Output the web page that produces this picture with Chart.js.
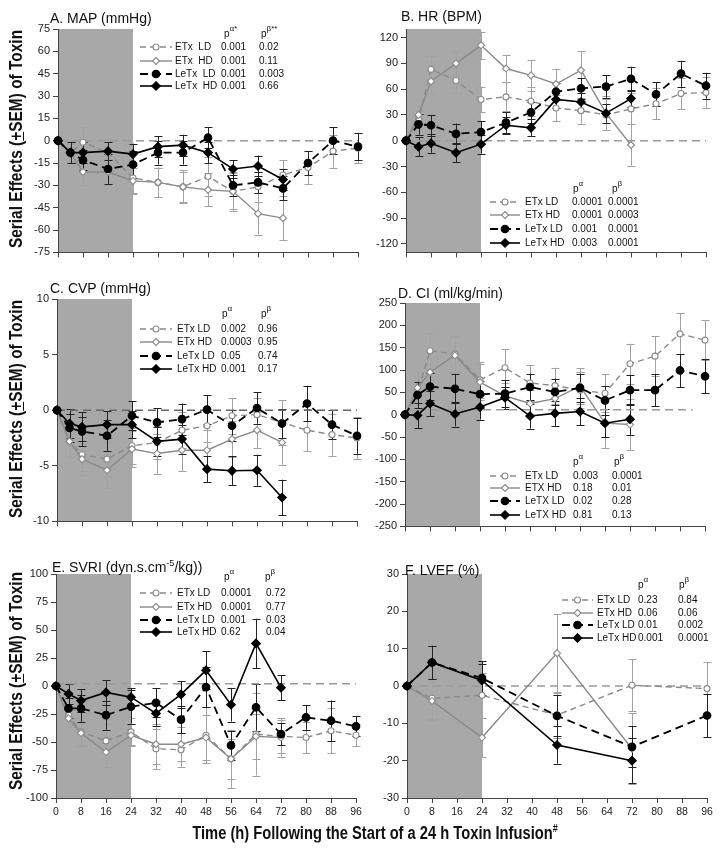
<!DOCTYPE html>
<html><head><meta charset="utf-8">
<script src="https://cdn.jsdelivr.net/npm/chart.js@4.4.0/dist/chart.umd.min.js"></script>
<style>
body{margin:0;background:#fff;width:720px;height:848px;position:relative;overflow:hidden;font-family:"Liberation Sans",Arial,sans-serif;color:#111;}
canvas{position:absolute;}
.ttl{position:absolute;font-size:14px;white-space:nowrap;line-height:16px;transform:translateY(-50%);}
.ttl sup{font-size:9px;}
.axt{position:absolute;font-weight:bold;font-size:18px;white-space:nowrap;line-height:20px;}
.axt sup{font-size:11px;}
.lg{position:absolute;font-size:10px;white-space:nowrap;line-height:12px;transform:translateY(-50%);}
.lg sup{font-size:8px;vertical-align:6px;line-height:0;}
svg.sym{position:absolute;overflow:visible;}
</style></head>
<body>
<script>
// ---------------- DATA ----------------
const X_TICKS = [0,8,16,24,32,40,48,56,64,72,80,88,96];
const infusionWindow = [0, 24];
const T_FULL = [0,4,8,16,24,32,40,48,56,64,72,80,88,96];
const T_72   = [0,4,8,16,24,32,40,48,56,64,72];
const T_F    = [0,8,24,48,72,96];
const T_F72  = [0,8,24,48,72];
const seriesNames = ['ETx LD','ETx HD','LeTx LD','LeTx HD'];

// A. MAP
const yTicksA = [-75,-60,-45,-30,-15,0,15,30,45,60,75];
const mapEtxLD = [0,-8,-1,-8,-25,-28,-31,-24,-34,-31,-23,-18,-7,-5];
const mapEtxLDsem = [0,6,10,9,10,10,10,13,13,10,10,11,11,10];
const mapEtxHD = [0,-8,-21,-21,-27,-28,-31,-33,-34,-49,-52];
const mapEtxHDsem = [0,7,9,9,9,10,11,11,12,14,15];
const mapLetxLD = [0,-8,-13,-19,-16,-8,-8,2,-30,-28,-32,-15,0,-4];
const mapLetxLDsem = [0,7,7,10,9,8,8,7,7,7,8,8,9,9];
const mapLetxHD = [0,-8,-8,-7,-9,-4,-3,-8,-19,-17,-26];
const mapLetxHDsem = [0,7,7,6,7,7,7,7,6,7,7];
const mapRef = 0;
const mapPa = ['0.001','0.001','0.001','0.001'];
const mapPb = ['0.02','0.11','0.003','0.66'];

// B. HR
const yTicksB = [-120,-90,-60,-30,0,30,60,90,120];
const hrEtxLD = [0,25,83,70,48,51,46,38,35,30,37,43,55,56];
const hrEtxLDsem = [0,10,15,15,15,17,17,15,15,18,18,18,18,18];
const hrEtxHD = [0,30,69,90,111,84,76,66,82,32,-5];
const hrEtxHDsem = [0,10,15,14,16,16,18,18,22,20,24];
const hrLetxLD = [0,19,18,8,10,21,33,57,61,63,72,54,78,64];
const hrLetxLDsem = [0,12,12,12,13,12,12,10,12,13,14,14,15,15];
const hrLetxHD = [0,-7,-3,-14,-4,18,15,48,45,32,49];
const hrLetxHDsem = [0,11,11,11,11,10,10,10,11,11,10];
const hrRef = 0;
const hrPa = ['0.0001','0.0001','0.001','0.003'];
const hrPb = ['0.0001','0.0003','0.0001','0.0001'];

// C. CVP
const yTicksC = [-10,-5,0,5,10];
const cvpEtxLD = [0,-2.8,-4.0,-4.4,-3.2,-2.9,-1.8,-1.4,-0.5,-0.4,-1.1,-1.8,-2.2,-2.5];
const cvpEtxLDsem = [0,1.4,1.5,1.5,1.6,1.5,1.6,1.5,1.6,1.5,2.0,1.9,1.9,1.9];
const cvpEtxHD = [0,-2.8,-4.4,-5.4,-3.5,-3.9,-3.6,-3.6,-2.6,-1.8,-2.9];
const cvpEtxHDsem = [0,1.4,1.4,1.6,1.6,1.8,1.9,1.8,1.6,1.6,2.0];
const cvpLetxLD = [0,-1.6,-1.9,-2.3,-0.5,-1.1,-0.8,0.05,-1.4,0.2,-1.2,0.6,-1.3,-2.3];
const cvpLetxLDsem = [0,1.3,1.3,1.4,1.3,1.3,1.4,1.3,1.4,1.4,1.3,1.6,1.3,1.6];
const cvpLetxHD = [0,-1.2,-1.5,-1.3,-1.3,-2.8,-2.6,-5.3,-5.45,-5.4,-7.85];
const cvpLetxHDsem = [0,1.3,1.3,1.2,1.2,1.3,1.3,1.2,1.3,1.4,1.6];
const cvpRef = 0;
const cvpPa = ['0.002','0.0003','0.05','0.001'];
const cvpPb = ['0.96','0.95','0.74','0.17'];

// D. CI
const yTicksD = [-250,-200,-150,-100,-50,0,50,100,150,200,250];
const ciEtxLD = [0,50,143,136,78,105,71,65,55,48,114,131,181,167];
const ciEtxLDsem = [0,35,40,40,40,42,40,40,40,42,45,45,46,45];
const ciEtxHD = [0,60,95,133,73,42,25,36,64,-19,-22];
const ciEtxHDsem = [0,35,45,40,40,30,30,30,40,55,58];
const ciLetxLD = [0,44,63,58,46,47,62,51,60,32,55,55,99,86];
const ciLetxLDsem = [0,30,30,32,30,30,30,30,32,32,33,36,37,38];
const ciLetxHD = [0,-1.5,25,1.5,17,38,-3,3,7,-19,-10];
const ciLetxHDsem = [0,28,28,28,28,25,28,28,30,32,35];
const ciRef = 11;
const ciNames = ['ETx LD','ETX HD','LeTX LD','LeTX HD'];
const ciPa = ['0.003','0.18','0.02','0.81'];
const ciPb = ['0.0001','0.01','0.28','0.13'];

// E. SVRI
const yTicksE = [-100,-75,-50,-25,0,25,50,75,100];
const svriEtxLD = [0,-26,-41,-49,-41,-56,-57,-44,-65,-43,-45,-46,-40,-44];
const svriEtxLDsem = [0,8,12,15,12,18,15,25,26,37,15,14,20,10];
const svriEtxHD = [0,-29,-42,-59,-44,-52,-52,-46,-65,-45,-46];
const svriEtxHDsem = [0,8,12,13,10,18,15,20,18,20,17];
const svriLetxLD = [0,-20,-20,-26,-18.5,-15,-30,-1,-53,-19,-43,-28,-31,-36];
const svriLetxLDsem = [0,9,12,13,15,13,12,18,13,21,10,11,18,9];
const svriLetxHD = [0,-7,-13,-5.7,-10,-24.5,-7.5,14,-16.7,38,-1.5];
const svriLetxHDsem = [0,9,10,11,8,11,12,17,15,22,11];
const svriRef = 2;
const svriPa = ['0.0001','0.0001','0.001','0.62'];
const svriPb = ['0.72','0.77','0.03','0.04'];

// F. LVEF
const yTicksF = [-30,-20,-10,0,10,20,30];
const lvefEtxLD = [0,-3.3,-2.5,-7.8,0.2,-0.7];
const lvefEtxLDsem = [0,5.5,6,6,7,7];
const lvefEtxHD = [0,-4,-13.8,8.8,-16.8];
const lvefEtxHDsem = [0,5,5.3,10.5,9.5];
const lvefLetxLD = [0,6.3,2.1,-8,-16.3,-7.9];
const lvefLetxLDsem = [0,4.5,4.5,5.5,5.5,5.8];
const lvefLetxHD = [0,6.3,1.5,-15.8,-20];
const lvefLetxHDsem = [0,4.3,4.3,5,6];
const lvefRef = 0;
const lvefPa = ['0.23','0.06','0.01','0.001'];
const lvefPb = ['0.84','0.06','0.002','0.0001'];

// ---------------- STYLES / LAYOUT ----------------
const GREY = '#8a8a8a', GREY_ERR = '#a2a2a2', BLACK = '#000';
const seriesStyle = [
  {color:GREY, err:GREY_ERR, dash:[6,4], shape:'circle', r:3, fill:'#fff', bw:1.4},
  {color:GREY, err:GREY_ERR, dash:[], shape:'rectRot', r:3.5, fill:'#fff', bw:1.4},
  {color:BLACK, err:'#222', dash:[8,5], shape:'circle', r:3.8, fill:BLACK, bw:1.8},
  {color:BLACK, err:'#222', dash:[], shape:'rectRot', r:4.3, fill:BLACK, bw:1.6}
];

const panels = [
  {L:58, T:29, H:225, yMin:-75, yMax:75, yTicks:yTicksA, bottom:false, refY:mapRef, refX:[0,96], refColor:'#9a9a9a',
   series:[[T_FULL,mapEtxLD,mapEtxLDsem],[T_72,mapEtxHD,mapEtxHDsem],[T_FULL,mapLetxLD,mapLetxLDsem],[T_72,mapLetxHD,mapLetxHDsem]]},
  {L:406, T:29, H:225, yMin:-130, yMax:130, yTicks:yTicksB, bottom:false, refY:hrRef, refX:[0,96], refColor:'#9a9a9a',
   series:[[T_FULL,hrEtxLD,hrEtxLDsem],[T_72,hrEtxHD,hrEtxHDsem],[T_FULL,hrLetxLD,hrLetxLDsem],[T_72,hrLetxHD,hrLetxHDsem]]},
  {L:57, T:299, H:224, yMin:-10, yMax:10, yTicks:yTicksC, bottom:false, refY:cvpRef, refX:[0,96], refColor:'#666',
   series:[[T_FULL,cvpEtxLD,cvpEtxLDsem],[T_72,cvpEtxHD,cvpEtxHDsem],[T_FULL,cvpLetxLD,cvpLetxLDsem],[T_72,cvpLetxHD,cvpLetxHDsem]]},
  {L:405, T:303, H:225, yMin:-250, yMax:250, yTicks:yTicksD, bottom:false, refY:ciRef, refX:[0,92], refColor:'#9a9a9a',
   series:[[T_FULL,ciEtxLD,ciEtxLDsem],[T_72,ciEtxHD,ciEtxHDsem],[T_FULL,ciLetxLD,ciLetxLDsem],[T_72,ciLetxHD,ciLetxHDsem]]},
  {L:56, T:574, H:224, yMin:-100, yMax:100, yTicks:yTicksE, bottom:true, refY:svriRef, refX:[0,96], refColor:'#9a9a9a',
   series:[[T_FULL,svriEtxLD,svriEtxLDsem],[T_72,svriEtxHD,svriEtxHDsem],[T_FULL,svriLetxLD,svriLetxLDsem],[T_72,svriLetxHD,svriLetxHDsem]]},
  {L:407, T:574, H:224, yMin:-30, yMax:30, yTicks:yTicksF, bottom:true, refY:lvefRef, refX:[0,96], refColor:'#9a9a9a',
   series:[[T_F,lvefEtxLD,lvefEtxLDsem],[T_F72,lvefEtxHD,lvefEtxHDsem],[T_F,lvefLetxLD,lvefLetxLDsem],[T_F72,lvefLetxHD,lvefLetxHDsem]]}
];

const YW = 45, PADT = 10, PADR = 14;
const AXIS = '#444';
const FONT = '"Liberation Sans", Arial, sans-serif';

const shadePlugin = {
  id:'shade',
  beforeDraw(chart){
    const {ctx, chartArea:a, scales:{x}} = chart;
    const x0 = x.getPixelForValue(infusionWindow[0]), x1 = x.getPixelForValue(infusionWindow[1]);
    ctx.save(); ctx.fillStyle = '#a8a8a8';
    ctx.fillRect(x0, a.top, x1 - x0, a.bottom - a.top);
    ctx.restore();
  }
};
const errPlugin = {
  id:'errbars',
  beforeDatasetsDraw(chart){
    const {ctx, scales:{y}} = chart;
    ctx.save();
    const idx = chart.data.datasets.map((d,i)=>i).filter(i=>chart.data.datasets[i].sem);
    idx.sort((a,b)=>chart.data.datasets[b].order - chart.data.datasets[a].order);
    for (const i of idx) {
      const ds = chart.data.datasets[i];
      const meta = chart.getDatasetMeta(i);
      ctx.strokeStyle = ds.errColor; ctx.lineWidth = 1;
      ds.data.forEach((p, j) => {
        const s = ds.sem[j]; if (!s) return;
        const px = Math.round(meta.data[j].x) + 0.5;
        const yt = y.getPixelForValue(p.y + s), yb = y.getPixelForValue(p.y - s);
        ctx.beginPath();
        ctx.moveTo(px, yt); ctx.lineTo(px, yb);
        ctx.moveTo(px - 4, Math.round(yt)+0.5); ctx.lineTo(px + 4, Math.round(yt)+0.5);
        ctx.moveTo(px - 4, Math.round(yb)+0.5); ctx.lineTo(px + 4, Math.round(yb)+0.5);
        ctx.stroke();
      });
    }
    ctx.restore();
  }
};

panels.forEach(p => {
  const xh = p.bottom ? 28 : 8;
  const c = document.createElement('canvas');
  c.width = YW + 300 + PADR; c.height = PADT + p.H + xh;
  c.style.left = (p.L - YW) + 'px'; c.style.top = (p.T - PADT) + 'px';
  document.body.appendChild(c);
  const datasets = [{
    data: p.refX.map(x => ({x, y:p.refY})), borderColor:p.refColor, borderDash:[8,5], borderWidth:1.4,
    pointRadius:0, order:10, clip:false
  }];
  p.series.forEach((s, k) => {
    const st = seriesStyle[k];
    datasets.push({
      label: seriesNames[k],
      data: s[0].map((x, i) => ({x, y:s[1][i]})),
      sem: s[2], errColor: st.err,
      borderColor: st.color, borderDash: st.dash, borderWidth: st.bw,
      pointStyle: st.shape, pointRadius: st.r, pointBackgroundColor: st.fill,
      pointBorderColor: st.color, pointBorderWidth: 1.1,
      tension: 0, clip: false, order: 4 - k
    });
  });
  new Chart(c, {
    type:'line',
    data:{datasets},
    options:{
      responsive:false, animation:false, events:[],
      layout:{padding:{left:0, top:PADT, right:PADR, bottom:0}},
      plugins:{legend:{display:false}, tooltip:{enabled:false}, title:{display:false}},
      scales:{
        x:{type:'linear', min:0, max:96,
           afterBuildTicks:s=>{s.ticks = X_TICKS.map(v=>({value:v}));},
           afterFit:s=>{s.height = xh;},
           ticks:{display:p.bottom, autoSkip:false, maxRotation:0, padding:3, color:'#222', font:{family:FONT, size:10.5}},
           grid:{display:true, drawOnChartArea:false, drawTicks:true, tickLength:5, color:AXIS},
           border:{display:true, color:AXIS, width:1}},
        y:{type:'linear', min:p.yMin, max:p.yMax,
           afterBuildTicks:s=>{s.ticks = p.yTicks.map(v=>({value:v}));},
           afterFit:s=>{s.width = YW;},
           ticks:{padding:3, color:'#222', font:{family:FONT, size:11}},
           grid:{display:true, drawOnChartArea:false, drawTicks:true, tickLength:5, color:AXIS},
           border:{display:true, color:AXIS, width:1}}
      }
    },
    plugins:[shadePlugin, errPlugin]
  });
});

// ---------------- TEXT ----------------
function addDiv(cls, html, left, top, extra){
  const d = document.createElement('div'); d.className = cls; d.innerHTML = html;
  d.style.left = left + 'px'; d.style.top = top + 'px';
  if (extra) Object.assign(d.style, extra);
  document.body.appendChild(d); return d;
}
const titles = [
  ['A. MAP (mmHg)', 50, 18], ['B. HR (BPM)', 401, 16], ['C. CVP (mmHg)', 50, 288],
  ['D. CI (ml/kg/min)', 398, 293], ['E. SVRI (dyn.s.cm<sup>-5</sup>/kg))', 52, 565], ['F. LVEF (%)', 405, 570]
];
titles.forEach(t => addDiv('ttl', t[0], t[1], t[2]));

// y axis titles
[139, 409, 681].forEach(cy => {
  const d = addDiv('axt', 'Serial Effects (<u>+</u>SEM) of Toxin', 16, cy);
  const k = 218 / d.offsetWidth;
  d.style.transform = 'translate(-50%,-50%) rotate(-90deg) scaleX(' + k + ')';
});
{
  const d = addDiv('axt', 'Time (h) Following the Start of a 24 h Toxin Infusion<sup>#</sup>', 375, 830);
  const k = 365 / d.offsetWidth;
  d.style.transform = 'translate(-50%,-50%) scaleX(' + k + ')';
}

// legends
function symbolSVG(k, x1, x2, cy){
  const st = seriesStyle[k];
  const w = x2 - x1, m = w / 2;
  let mk;
  if (st.shape === 'circle') mk = `<circle cx="${m}" cy="6" r="${st.r}" fill="${st.fill}" stroke="${st.color}" stroke-width="1.1"/>`;
  else mk = `<polygon points="${m},${6-st.r} ${m+st.r},6 ${m},${6+st.r} ${m-st.r},6" fill="${st.fill}" stroke="${st.color}" stroke-width="1.1"/>`;
  const dash = st.dash.length ? `stroke-dasharray="${st.dash.join(',')}"` : '';
  const html = `<svg class="sym" width="${w}" height="12" style="left:${x1}px;top:${cy-6}px"><line x1="0" y1="6" x2="${w}" y2="6" stroke="${st.color}" stroke-width="${st.bw}" ${dash}/>${mk}</svg>`;
  const tmp = document.createElement('div'); tmp.innerHTML = html; document.body.appendChild(tmp.firstChild);
}
const legends = [
  {names:['ETx&nbsp;&nbsp;LD','ETx&nbsp;&nbsp;HD','LeTx&nbsp;&nbsp;LD','LeTx&nbsp;&nbsp;HD'], pa:mapPa, pb:mapPb, ha:'p<sup>α*</sup>', hb:'p<sup>β**</sup>',
   rows:[47,61,73.5,86], hy:34, sx:[140,172], nx:175, c1:221, c2:259, h1:224, h2:261},
  {names:seriesNames, pa:hrPa, pb:hrPb, ha:'p<sup>α</sup>', hb:'p<sup>β</sup>',
   rows:[202,215,229,243], hy:189, sx:[490,520], nx:525, c1:572, c2:608, h1:573, h2:612},
  {names:seriesNames, pa:cvpPa, pb:cvpPb, ha:'p<sup>α</sup>', hb:'p<sup>β</sup>',
   rows:[329,342,356,369], hy:314, sx:[140,172], nx:177, c1:221, c2:258, h1:222, h2:261},
  {names:ciNames, pa:ciPa, pb:ciPb, ha:'p<sup>α</sup>', hb:'p<sup>β</sup>',
   rows:[476,488,501,515], hy:462, sx:[490,520], nx:525, c1:573, c2:612, h1:573, h2:614},
  {names:seriesNames, pa:svriPa, pb:svriPb, ha:'p<sup>α</sup>', hb:'p<sup>β</sup>',
   rows:[593,607,620,632], hy:577, sx:[140,172], nx:177, c1:221, c2:266, h1:224, h2:265},
  {names:seriesNames, pa:lvefPa, pb:lvefPb, ha:'p<sup>α</sup>', hb:'p<sup>β</sup>',
   rows:[600,613,625,638], hy:585, sx:[562,593], nx:597, c1:638, c2:678, h1:638, h2:679}
];
legends.forEach(L => {
  addDiv('lg', L.ha, L.h1, L.hy); addDiv('lg', L.hb, L.h2, L.hy);
  L.rows.forEach((cy, k) => {
    symbolSVG(k, L.sx[0], L.sx[1], cy);
    addDiv('lg', L.names[k], L.nx, cy);
    addDiv('lg', L.pa[k], L.c1, cy);
    addDiv('lg', L.pb[k], L.c2, cy);
  });
});
</script>
</body></html>
